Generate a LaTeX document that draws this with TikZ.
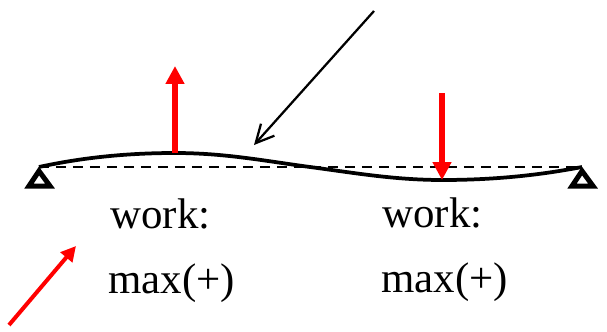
\documentclass[tikz,border=0pt]{standalone}
\usepackage{fontspec}
\setmainfont{Liberation Serif}
\usetikzlibrary{arrows, arrows.meta}
\tikzset{
  lbl/.style={inner sep=0pt, anchor=base west, font=\fontsize{24.4}{28}\selectfont},
  beam/.style={line width=0.075cm},
  support/.style={line width=0.1cm, line join=miter},
  redarrow/.style={draw=red, line width=0.12cm, -{Triangle[length=0.36cm,width=0.36cm]}},
  thinarrow/.style={line width=0.045cm, -{Straight Barb[length=0.36cm,width=0.36cm]}}
}
\begin{document}
\begin{tikzpicture}[x=0.02cm,y=-0.02cm]
	\useasboundingbox (0,0) rectangle (607,331);

	\coordinate (supL) at (39,167);
	\coordinate (supR) at (582,167);
	\coordinate (crest) at (175,153);
	\coordinate (trough) at (442,180);
	\coordinate (zero) at (310,167);

	% dashed chord and deflected beam
	\draw[line width=0.045cm, dash pattern=on 0.2cm off 0.14cm] (supL) -- (supR);
	\draw[beam] (supL) .. controls (85,157) and (130,153) .. (crest)
		.. controls (225,153) and (265,161) .. (zero)
		.. controls (355,173) and (395,180) .. (trough)
		.. controls (490,180) and (535,176) .. (supR);

	% supports
	\draw[support] (39,171) -- (29,186) -- (50,186) -- cycle;
	\draw[support] (582,171) -- (572,186) -- (593,186) -- cycle;

	% loads
	\coordinate (upTip) at (175,66);
	\coordinate (downStart) at (442,93);
	\draw[redarrow] (crest) -- (upTip);
	\draw[redarrow] (downStart) -- (trough);

	\coordinate (thinStart) at (374,11);
	\coordinate (thinEnd) at (254,145);
	\draw[thinarrow] (thinStart) -- (thinEnd);

	\coordinate (redStart) at (9,325);
	\coordinate (redEnd) at (76,246);
	\draw[draw=red, line width=0.08cm, -{Triangle[length=0.3cm,width=0.3cm]}] (redStart) -- (redEnd);

	\node[lbl] (workL) at (110,228) {work:};
	\node[lbl] (workR) at (382,227) {work:};
	\node[lbl] (maxL) at (108,293) {max(+)};
	\node[lbl] (maxR) at (381,292) {max(+)};
\end{tikzpicture}
\end{document}
